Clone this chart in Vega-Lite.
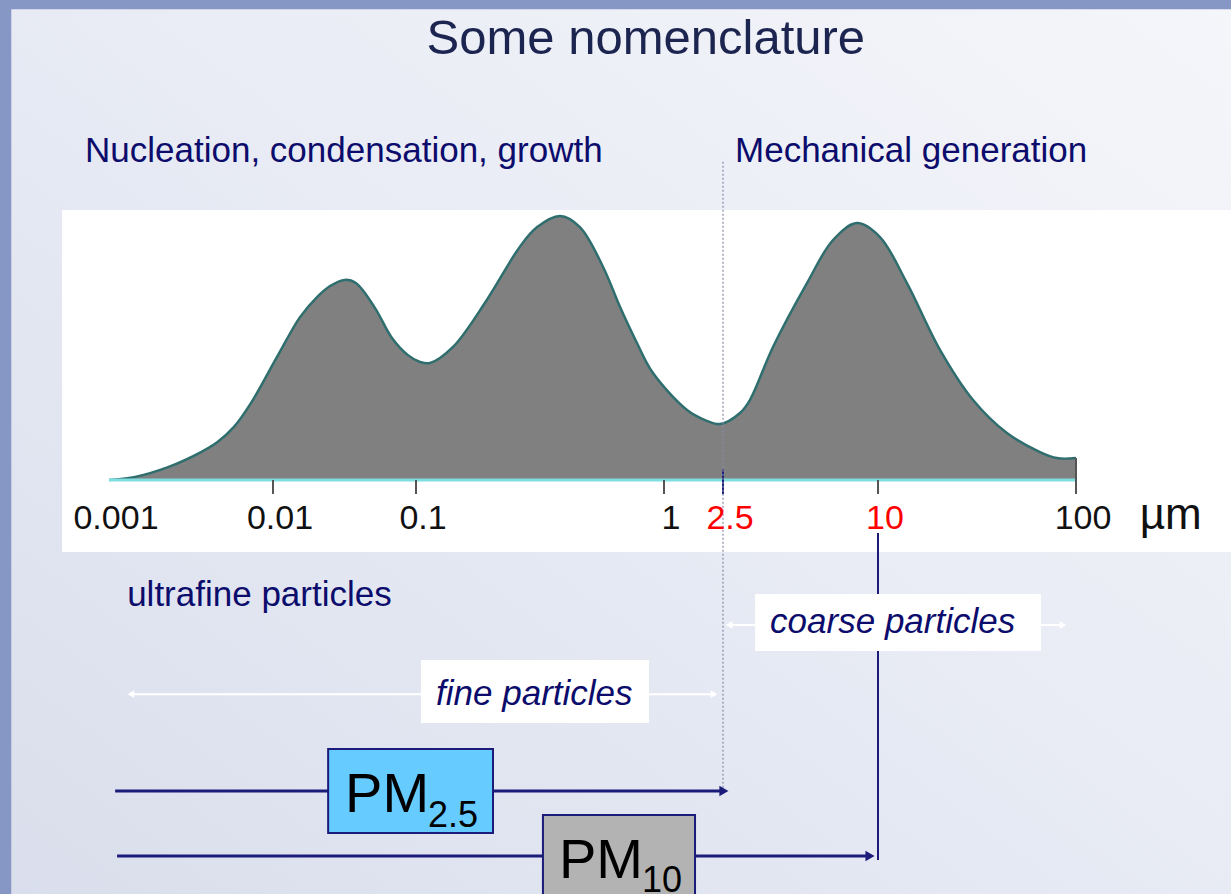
{
  "$schema": "https://vega.github.io/schema/vega-lite/v6.json",
  "width": 1220,
  "height": 885,
  "autosize": {"type": "none"},
  "padding": {"left": 11, "top": 9, "right": 0, "bottom": 0},
  "background": "#8797c5",
  "config": {"view": {"stroke": null}},
  "datasets": {
    "bg": [{"x": 0.000253, "x2": 700, "y": -170, "y2": 178.3}],
    "panel": [{"x": 0.000517, "x2": 700, "y": -27.3, "y2": 102.3}],
    "curve": [
      {"x": 0.001, "y": 0},
      {"x": 0.00142, "y": 1.1},
      {"x": 0.00229, "y": 4.9},
      {"x": 0.00364, "y": 10.6},
      {"x": 0.00459, "y": 14.4},
      {"x": 0.00578, "y": 20.1},
      {"x": 0.00735, "y": 29.2},
      {"x": 0.01067, "y": 46.6},
      {"x": 0.01545, "y": 61.7},
      {"x": 0.02032, "y": 69.3},
      {"x": 0.02506, "y": 73.5},
      {"x": 0.0318, "y": 75.8},
      {"x": 0.038, "y": 74.6},
      {"x": 0.0516, "y": 65.2},
      {"x": 0.0679, "y": 53.8},
      {"x": 0.0879, "y": 47.3},
      {"x": 0.1038, "y": 44.7},
      {"x": 0.1139, "y": 44.3},
      {"x": 0.141, "y": 50.4},
      {"x": 0.193, "y": 68.2},
      {"x": 0.262, "y": 88.3},
      {"x": 0.308, "y": 95.8},
      {"x": 0.381, "y": 100},
      {"x": 0.458, "y": 95.8},
      {"x": 0.568, "y": 80.7},
      {"x": 0.665, "y": 65.5},
      {"x": 0.778, "y": 51.9},
      {"x": 0.903, "y": 40.5},
      {"x": 1.43, "y": 26.5},
      {"x": 1.891, "y": 22.7},
      {"x": 2.387, "y": 21.2},
      {"x": 2.911, "y": 25.4},
      {"x": 3.18, "y": 30.3},
      {"x": 3.91, "y": 50.4},
      {"x": 5.3, "y": 74.6},
      {"x": 6.69, "y": 90.9},
      {"x": 8.29, "y": 97.3},
      {"x": 10.23, "y": 92.0},
      {"x": 14.0, "y": 74.6},
      {"x": 20.6, "y": 49.2},
      {"x": 30.2, "y": 30.3},
      {"x": 44.8, "y": 17.8},
      {"x": 65.8, "y": 10.6},
      {"x": 80.2, "y": 8.3},
      {"x": 100, "y": 8.3}
    ],
    "baseline": [{"x": 0.001, "x2": 100, "y": 0}],
    "ticks": [
      {"x": 0.01, "y": 0, "y2": -5.3},
      {"x": 0.1, "y": 0, "y2": -5.3},
      {"x": 1, "y": 0, "y2": -5.3},
      {"x": 10, "y": 0, "y2": -5.3},
      {"x": 100, "y": 8.3, "y2": -5.3}
    ],
    "tick25": [{"x": 2.5, "y": 4, "y2": -5.3}],
    "labels": [
      {"x": 0.001, "y": -18.6, "label": "0.001"},
      {"x": 0.01, "y": -18.6, "label": "0.01"},
      {"x": 0.1, "y": -18.6, "label": "0.1"},
      {"x": 1, "y": -18.6, "label": "1"},
      {"x": 2.5, "y": -18.6, "label": "2.5"},
      {"x": 10, "y": -18.6, "label": "10"},
      {"x": 100, "y": -18.6, "label": "100"}
    ],
    "unit": [{"x": 210, "y": -18.6, "label": "µm"}],
    "dash25": [{"x": 2.5, "y": 120.5, "y2": -117.8}],
    "line10": [{"x": 10, "y": -20.1, "y2": -143.9}],
    "whiteLines": [
      {"x": 0.00136, "x2": 2.175, "y": -81.1},
      {"x": 2.638, "x2": 85.9, "y": -54.9}
    ],
    "whiteLeft": [{"x": 0.00136, "y": -81.1}, {"x": 2.638, "y": -54.9}],
    "whiteRight": [{"x": 2.175, "y": -81.1}, {"x": 85.9, "y": -54.9}],
    "pmLines": [
      {"x": 0.00109, "x2": 2.52, "y": -117.8},
      {"x": 0.00112, "x2": 9.31, "y": -142.4}
    ],
    "pmHeads": [{"x": 2.52, "y": -117.8}, {"x": 9.31, "y": -142.4}],
    "whiteBoxes": [
      {"x": 0.1047, "x2": 0.87, "y": -68.2, "y2": -92.0},
      {"x": 3.33, "x2": 66.5, "y": -43.2, "y2": -64.8}
    ],
    "pm25Box": [{"x": 0.0243, "x2": 0.2044, "y": -101.9, "y2": -133.7}],
    "pm10Box": [{"x": 0.325, "x2": 1.619, "y": -126.9, "y2": -170}],
    "title": [{"x": 0.845, "y": 161.4, "label": "Some nomenclature"}],
    "headings": [
      {"x": 0.000714, "y": 120.5, "label": "Nucleation, condensation, growth"},
      {"x": 2.784, "y": 120.5, "label": "Mechanical generation"},
      {"x": 0.00129, "y": -47.7, "label": "ultrafine particles"}
    ],
    "italics": [
      {"x": 0.1205, "y": -85.2, "label": "fine particles"},
      {"x": 3.81, "y": -58.0, "label": "coarse particles"}
    ],
    "pm": [
      {"x": 0.0319, "y": -125.8, "label": "PM"},
      {"x": 0.3773, "y": -150.8, "label": "PM"}
    ],
    "subs": [
      {"x": 0.1118, "y": -131.4, "label": "2.5"},
      {"x": 0.815, "y": -156.0, "label": "10"}
    ]
  },
  "encoding": {
    "x": {
      "field": "x",
      "type": "quantitative",
      "axis": null,
      "scale": {
        "type": "log",
        "nice": false,
        "domain": [0.000252, 0.001, 0.01, 0.1, 1, 2.5, 10, 100, 607],
        "range": [0, 98, 262, 405, 653, 712, 867, 1065, 1220]
      }
    },
    "y": {
      "field": "y",
      "type": "quantitative",
      "axis": null,
      "scale": {"domain": [-156.8, 178.4], "nice": false, "zero": false}
    }
  },
  "layer": [
    {
      "data": {"name": "bg"},
      "mark": {
        "type": "rect",
        "color": {
          "gradient": "linear",
          "x1": 0, "y1": 1, "x2": 1, "y2": 0,
          "stops": [
            {"offset": 0, "color": "#d9deec"},
            {"offset": 0.55, "color": "#e9ecf5"},
            {"offset": 1, "color": "#f5f6fa"}
          ]
        }
      },
      "encoding": {"x2": {"field": "x2"}, "y2": {"field": "y2"}}
    },
    {
      "data": {"name": "panel"},
      "mark": {"type": "rect", "color": "#ffffff"},
      "encoding": {"x2": {"field": "x2"}, "y2": {"field": "y2"}}
    },
    {
      "data": {"name": "curve"},
      "mark": {
        "type": "area",
        "interpolate": "catmull-rom",
        "color": "#808080",
        "opacity": 1,
        "line": {"color": "#2f6e6e", "strokeWidth": 2.5}
      },
      "encoding": {"y2": {"datum": 0}}
    },
    {
      "data": {"name": "baseline"},
      "mark": {"type": "rule", "color": "#7fdfe0", "strokeWidth": 3},
      "encoding": {"x2": {"field": "x2"}}
    },
    {
      "data": {"name": "ticks"},
      "mark": {"type": "rule", "color": "#555555", "strokeWidth": 2},
      "encoding": {"y2": {"field": "y2"}}
    },
    {
      "data": {"name": "tick25"},
      "mark": {"type": "rule", "color": "#1b1b7a", "strokeWidth": 2},
      "encoding": {"y2": {"field": "y2"}}
    },
    {
      "data": {"name": "dash25"},
      "mark": {"type": "rule", "color": "#8a8aa8", "strokeWidth": 1.2, "strokeDash": [2, 2]},
      "encoding": {"y2": {"field": "y2"}}
    },
    {
      "data": {"name": "line10"},
      "mark": {"type": "rule", "color": "#1b1b7a", "strokeWidth": 2},
      "encoding": {"y2": {"field": "y2"}}
    },
    {
      "data": {"name": "whiteLines"},
      "mark": {"type": "rule", "color": "#ffffff", "strokeWidth": 2},
      "encoding": {"x2": {"field": "x2"}}
    },
    {
      "data": {"name": "whiteLeft"},
      "mark": {"type": "point", "shape": "triangle-left", "filled": true, "color": "#ffffff", "size": 60, "opacity": 1},
      "encoding": {}
    },
    {
      "data": {"name": "whiteRight"},
      "mark": {"type": "point", "shape": "triangle-right", "filled": true, "color": "#ffffff", "size": 60, "opacity": 1},
      "encoding": {}
    },
    {
      "data": {"name": "whiteBoxes"},
      "mark": {"type": "rect", "color": "#ffffff"},
      "encoding": {"x2": {"field": "x2"}, "y2": {"field": "y2"}}
    },
    {
      "data": {"name": "pmLines"},
      "mark": {"type": "rule", "color": "#1b1b7a", "strokeWidth": 3},
      "encoding": {"x2": {"field": "x2"}}
    },
    {
      "data": {"name": "pmHeads"},
      "mark": {"type": "point", "shape": "triangle-right", "filled": true, "color": "#1b1b7a", "size": 110, "opacity": 1},
      "encoding": {}
    },
    {
      "data": {"name": "pm25Box"},
      "mark": {"type": "rect", "fill": "#66ccff", "stroke": "#1b1b7a", "strokeWidth": 2},
      "encoding": {"x2": {"field": "x2"}, "y2": {"field": "y2"}}
    },
    {
      "data": {"name": "pm10Box"},
      "mark": {"type": "rect", "fill": "#b3b3b3", "stroke": "#1b1b7a", "strokeWidth": 2},
      "encoding": {"x2": {"field": "x2"}, "y2": {"field": "y2"}}
    },
    {
      "data": {"name": "labels"},
      "mark": {"type": "text", "font": "Liberation Sans", "fontSize": 34, "align": "center", "baseline": "alphabetic", "dx": 7},
      "encoding": {
        "text": {"field": "label"},
        "color": {"condition": {"test": "datum.label == '2.5' || datum.label == '10'", "value": "#ff0000"}, "value": "#111111"}
      }
    },
    {
      "data": {"name": "unit"},
      "mark": {"type": "text", "font": "Liberation Sans", "fontSize": 44, "align": "left", "baseline": "alphabetic", "color": "#111111"},
      "encoding": {"text": {"field": "label"}}
    },
    {
      "data": {"name": "title"},
      "mark": {"type": "text", "font": "Liberation Sans", "fontSize": 49, "align": "center", "baseline": "alphabetic", "color": "#1c2450"},
      "encoding": {"text": {"field": "label"}}
    },
    {
      "data": {"name": "headings"},
      "mark": {"type": "text", "font": "Liberation Sans", "fontSize": 35, "align": "left", "baseline": "alphabetic", "color": "#0c0c6c"},
      "encoding": {"text": {"field": "label"}}
    },
    {
      "data": {"name": "italics"},
      "mark": {"type": "text", "font": "Liberation Sans", "fontSize": 35, "fontStyle": "italic", "align": "left", "baseline": "alphabetic", "color": "#0c0c6c"},
      "encoding": {"text": {"field": "label"}}
    },
    {
      "data": {"name": "pm"},
      "mark": {"type": "text", "font": "Liberation Sans", "fontSize": 56, "align": "left", "baseline": "alphabetic", "color": "#000000"},
      "encoding": {"text": {"field": "label"}}
    },
    {
      "data": {"name": "subs"},
      "mark": {"type": "text", "font": "Liberation Sans", "fontSize": 36, "align": "left", "baseline": "alphabetic", "color": "#000000"},
      "encoding": {"text": {"field": "label"}}
    }
  ]
}
